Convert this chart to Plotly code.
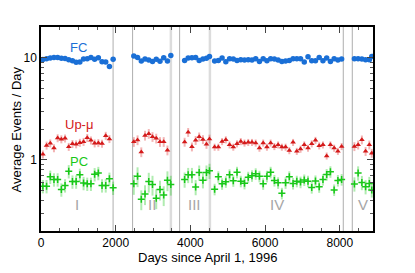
import math
import plotly.graph_objects as go

# ---- data ----
days_sk1 = [50, 149, 248, 347, 446, 545, 644, 743, 842, 941, 1040, 1139, 1238, 1337, 1436, 1535, 1634, 1733, 1832, 1931]
days_sk2 = [2485, 2585, 2685, 2785, 2885, 2985, 3085, 3185, 3285, 3385, 3475]
days_sk3 = [3845, 3940, 4040, 4140, 4235, 4335, 4430, 4510]
days_sk4 = [4648, 4748, 4848, 4948, 5048, 5148, 5248, 5348, 5448, 5548, 5648, 5748,
            5848, 5948, 6048, 6148, 6248, 6348, 6448, 6548, 6648, 6748, 6848, 6948,
            7048, 7148, 7248, 7348, 7448, 7548, 7648, 7748, 7848, 7948, 8048]
days_sk5 = [8390, 8490, 8590, 8690, 8790, 8855]

fc_sk1 = [9.60, 9.78, 9.95, 10.07, 10.05, 9.89, 9.82, 9.56, 9.35, 9.03, 9.07, 9.73, 9.78, 10.07, 9.67, 10.0, 9.14, 9.07, 8.22, 9.67]
fc_sk2 = [10.38, 10.05, 9.28, 9.71, 9.49, 9.20, 9.63, 9.24, 10.0, 9.28, 10.51]
fc_sk3 = [9.41, 9.93, 10.0, 10.07, 9.41, 9.71, 9.85, 10.3]
fc_sk4 = [9.28, 9.41, 9.93, 9.14, 9.78, 9.71, 9.41, 9.56, 9.49, 9.56, 9.49, 9.78, 9.20, 9.78, 9.35, 9.78, 9.71, 9.49,
          9.20, 9.28, 9.41, 9.78, 9.78, 9.78, 9.07, 10.23, 9.35, 9.35, 10.07, 9.35, 9.93, 9.20, 9.78, 9.49, 9.71]
fc_sk5 = [9.78, 9.78, 9.71, 9.56, 9.56, 10.3]

upmu_sk1 = [1.13, 1.38, 1.45, 1.30, 1.63, 1.59, 1.62, 1.34, 1.43, 1.42, 1.47, 1.50, 1.64, 1.55, 1.45, 1.46, 1.44, 1.72, 1.60]
upmu_sk2 = [1.50, 1.56, 1.19, 1.73, 1.80, 1.68, 1.62, 1.50, 1.50, 1.24]
upmu_sk3 = [1.49, 1.86, 1.34, 1.55, 1.68, 1.58, 1.42, 1.60]
upmu_sk4 = [1.33, 1.33, 1.51, 1.57, 1.40, 1.33, 1.435, 1.51, 1.46, 1.48, 1.48, 1.46, 1.30, 1.46, 1.33, 1.46, 1.35, 1.40,
            1.33, 1.33, 1.23, 1.48, 1.21, 1.27, 1.40, 1.30, 1.435, 1.55, 1.37, 1.40, 1.09, 1.40, 1.30, 1.21, 1.35]
upmu_sk5 = [1.35, 1.40, 1.57, 1.21, 1.40, 1.16]

pc_sk1 = [0.55, 0.55, 0.68, 0.64, 0.64, 0.51, 0.56, 0.77, 0.61, 0.61, 0.71, 0.59, 0.58, 0.58, 0.72, 0.74, 0.56, 0.56, 0.65, 0.53]
pc_sk2 = [0.58, 0.69, 0.41, 0.46, 0.61, 0.57, 0.42, 0.51, 0.45, 0.63, 0.57]
pc_sk3 = [0.64, 0.71, 0.71, 0.54, 0.75, 0.63, 0.75, 0.78]
pc_sk4 = [0.514, 0.681, 0.582, 0.609, 0.713, 0.623, 0.754, 0.616, 0.588, 0.674, 0.697, 0.729, 0.689, 0.582, 0.689,
          0.754, 0.627, 0.595, 0.469, 0.595, 0.681, 0.586, 0.616, 0.604, 0.634, 0.616, 0.534, 0.620, 0.544, 0.640,
          0.716, 0.763, 0.506, 0.627, 0.640]
pc_sk5 = [0.579, 0.742, 0.598, 0.544, 0.585, 0.506]

# relative statistical errors per phase (SK-I .. SK-V)
upmu_relerr = [0.09, 0.11, 0.10, 0.08, 0.10]
pc_relerr = [0.15, 0.22, 0.17, 0.13, 0.16]

period_names = ["I", "II", "III", "IV", "V"]
period_start = [0, 2451, 3710, 4522, 8334]
period_end = [1930, 3477, 4522, 8093, 8888]
boundary_days = [1930, 2451, 3477, 3710, 4522, 8093, 8334]
boundary_light = [False, False, True, False, True, False, False]

x_ticks = [0, 2000, 4000, 6000, 8000]
y_ticks = [1, 10]
y_minor = [0.2, 0.3, 0.4, 0.5, 0.6, 0.7, 0.8, 0.9, 2, 3, 4, 5, 6, 7, 8, 9, 20]

BLUE = "#1a6fd6"
RED = "#d41a1a"
GREEN = "#18c818"
FONT = "Liberation Sans, Arial, sans-serif"

fc_days = days_sk1 + days_sk2 + days_sk3 + days_sk4 + days_sk5
fc_vals = fc_sk1 + fc_sk2 + fc_sk3 + fc_sk4 + fc_sk5

up_days_groups = [days_sk1[:len(upmu_sk1)], days_sk2[:len(upmu_sk2)], days_sk3, days_sk4, days_sk5]
up_groups = [upmu_sk1, upmu_sk2, upmu_sk3, upmu_sk4, upmu_sk5]
pc_days_groups = [days_sk1, days_sk2, days_sk3, days_sk4, days_sk5]
pc_groups = [pc_sk1, pc_sk2, pc_sk3, pc_sk4, pc_sk5]

def flatten_with_err(day_groups, val_groups, relerrs):
    xs, ys, err = [], [], []
    for d, v, r in zip(day_groups, val_groups, relerrs):
        xs += d
        ys += v
        err += [val * r for val in v]
    return xs, ys, err

up_x, up_y, up_err = flatten_with_err(up_days_groups, up_groups, upmu_relerr)
pc_x, pc_y, pc_err = flatten_with_err(pc_days_groups, pc_groups, pc_relerr)

fig = go.Figure()

# phase boundaries
for d, light in zip(boundary_days, boundary_light):
    fig.add_shape(type="line", xref="x", yref="paper", x0=d, x1=d, y0=0, y1=1,
                  line=dict(color="#dcdcdc" if light else "#b5b5b5", width=2.5 if light else 1.1),
                  layer="below")

fig.add_trace(go.Scatter(
    x=up_x, y=up_y, mode="markers",
    marker=dict(symbol="triangle-up", size=5, color=RED),
    error_y=dict(type="data", array=up_err, color="rgba(220,40,40,0.35)", thickness=2, width=0),
    error_x=dict(type="constant", value=40, color="rgba(220,40,40,0.35)", thickness=1.5, width=0),
    showlegend=False, hoverinfo="skip"))

fig.add_trace(go.Scatter(
    x=pc_x, y=pc_y, mode="markers",
    marker=dict(symbol="cross-thin", size=5, line=dict(color=GREEN, width=1.5), color=GREEN),
    error_y=dict(type="data", array=pc_err, color="rgba(30,200,30,0.35)", thickness=2, width=0),
    showlegend=False, hoverinfo="skip"))

fig.add_trace(go.Scatter(
    x=fc_days, y=fc_vals, mode="markers",
    marker=dict(symbol="circle", size=5.5, color=BLUE),
    showlegend=False, hoverinfo="skip"))

# series labels
for txt, yv, col in [("FC", 12.5, BLUE), ("Up-μ", 2.2, RED), ("PC", 0.955, GREEN)]:
    fig.add_annotation(x=1013, y=math.log10(yv), xref="x", yref="y", text=txt,
                       showarrow=False, font=dict(family=FONT, size=13, color=col))

# period labels
for name, s, e in zip(period_names, period_start, period_end):
    fig.add_annotation(x=(s + e) / 2, y=0.078, xref="x", yref="paper", text=name,
                       showarrow=False, font=dict(family=FONT, size=15, color="#a6a6a6"))

# axis titles
fig.add_annotation(x=0.5, y=-0.132, xref="paper", yref="paper", yanchor="middle", text="Days since April 1, 1996",
                   showarrow=False, font=dict(family=FONT, size=13, color="black"))
fig.add_annotation(x=-0.074, y=0.5, xref="paper", yref="paper", xanchor="center", textangle=-90,
                   text="Average Events / Day", showarrow=False, font=dict(family=FONT, size=13, color="black"))

# the page body adds an 8px offset; size the figure so the plot lands where the reference has it
fig.update_layout(
    width=407, height=265,
    margin=dict(l=33, r=42, t=19, b=42),
    paper_bgcolor="white", plot_bgcolor="white",
    font=dict(family=FONT, size=12, color="black"),
    xaxis=dict(range=[0, 8888], tickvals=x_ticks, ticks="inside", ticklen=6, tickwidth=1.2,
               tickcolor="#444", showline=True, linecolor="black", linewidth=1.5, mirror="ticks",
               showgrid=False, zeroline=False, automargin=False,
               minor=dict(dtick=500, tick0=0, ticks="inside", ticklen=3.5, tickwidth=1, tickcolor="#555", showgrid=False),
               tickfont=dict(size=12)),
    yaxis=dict(type="log", range=[-0.699, 1.301], tickvals=y_ticks, ticktext=["1", "10"],
               ticks="inside", ticklen=6, tickwidth=1.2, tickcolor="#444",
               showline=True, linecolor="black", linewidth=1.5, mirror="ticks",
               showgrid=False, zeroline=False, automargin=False,
               minor=dict(tickvals=y_minor, ticks="inside", ticklen=3.5, tickwidth=1, tickcolor="#555", showgrid=False),
               tickfont=dict(size=12)),
)

fig.write_html("out.html")
